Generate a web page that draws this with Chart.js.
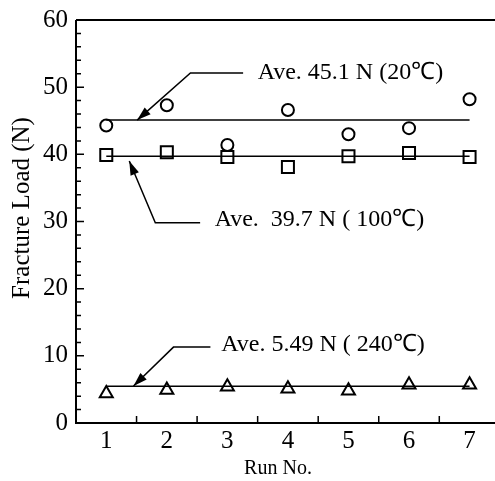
<!DOCTYPE html>
<html>
<head>
<meta charset="utf-8">
<script src="https://cdn.jsdelivr.net/npm/chart.js@4/dist/chart.umd.min.js"></script>
<style>
  body { margin: 0; background: #fff; }
  canvas { display: block; }
</style>
</head>
<body>
<canvas id="myChart" width="495" height="481"></canvas>
<script>
// data
const runs = [1, 2, 3, 4, 5, 6, 7];
const load20 = [44.3, 47.3, 41.4, 46.6, 43.0, 43.9, 48.2];
const load100 = [39.9, 40.3, 39.6, 38.1, 39.7, 40.2, 39.6];
const load240 = [4.4, 4.9, 5.4, 5.1, 4.8, 5.7, 5.7];
const averages = [45.1, 39.7, 5.49];
const avgLabels = ["Ave. 45.1 N (20\u2103)", "Ave.  39.7 N ( 100\u2103)", "Ave. 5.49 N ( 240\u2103)"];

const xTicks = [1, 2, 3, 4, 5, 6, 7];
const xTickMarks = [1.5, 2.5, 3.5, 4.5, 5.5, 6.5];
const yTicks = [0, 10, 20, 30, 40, 50, 60];
const yMinorTicks = [2, 4, 6, 8, 12, 14, 16, 18, 22, 24, 26, 28, 32, 34, 36, 38, 42, 44, 46, 48, 52, 54, 56, 58];
const xTitle = "Run No.";
const yTitle = "Fracture Load (N)";

// callout leaders in data units: arrow tip, elbow, end of horizontal, text start
const callouts = [
    { tip: [1.51, 45.1], elbow: [2.39, 52.1], end: [3.26, 52.1], text: [3.50, 52.2] },
    { tip: [1.38, 39.0], elbow: [1.81, 29.8], end: [2.55, 29.8], text: [2.79, 30.2] },
    { tip: [1.45, 5.5], elbow: [2.11, 11.3], end: [2.72, 11.3], text: [2.90, 11.6] }
];

const serif = "'Liberation Serif', 'Times New Roman', serif";

function pts(ys) {
    return runs.map((r, i) => ({ x: r, y: ys[i] }));
}
function avgLine(v) {
    return [{ x: runs[0], y: v }, { x: runs[runs.length - 1], y: v }];
}

const frame = {
    id: "frame",
    beforeDraw(chart) {
        const ctx = chart.ctx;
        ctx.save();
        ctx.fillStyle = "#fff";
        ctx.fillRect(0, 0, chart.width, chart.height);
        ctx.restore();
    },
    afterDraw(chart) {
        const ctx = chart.ctx;
        const a = chart.chartArea;
        const xs = chart.scales.x, ys = chart.scales.y;
        ctx.save();
        ctx.strokeStyle = "#000";
        ctx.lineWidth = 2;
        ctx.beginPath();
        ctx.moveTo(a.left, a.top);
        ctx.lineTo(chart.width, a.top);
        ctx.moveTo(a.left, a.top);
        ctx.lineTo(a.left, a.bottom);
        ctx.lineTo(chart.width, a.bottom);
        ctx.stroke();

        // inward tick marks
        ctx.lineWidth = 1.5;
        ctx.beginPath();
        yTicks.forEach(v => {
            const y = ys.getPixelForValue(v);
            ctx.moveTo(a.left, y);
            ctx.lineTo(a.left + 8, y);
        });
        yMinorTicks.forEach(v => {
            const y = ys.getPixelForValue(v);
            ctx.moveTo(a.left, y);
            ctx.lineTo(a.left + 5, y);
        });
        xTickMarks.forEach(v => {
            const x = xs.getPixelForValue(v);
            ctx.moveTo(x, a.bottom);
            ctx.lineTo(x, a.bottom - 7);
        });
        ctx.stroke();

        // axis titles
        ctx.fillStyle = "#000";
        ctx.textAlign = "center";
        ctx.textBaseline = "middle";
        ctx.font = "20px " + serif;
        ctx.fillText(xTitle, 278, 469);
        ctx.save();
        ctx.translate(22, 208);
        ctx.rotate(-Math.PI / 2);
        ctx.font = "25px " + serif;
        ctx.fillText(yTitle, 0, 0);
        ctx.restore();

        // callouts
        ctx.lineWidth = 1.5;
        ctx.font = "24px " + serif;
        ctx.textAlign = "left";
        callouts.forEach((c, i) => {
            const tx = xs.getPixelForValue(c.tip[0]), ty = ys.getPixelForValue(c.tip[1]);
            const ex = xs.getPixelForValue(c.elbow[0]), ey = ys.getPixelForValue(c.elbow[1]);
            const hx = xs.getPixelForValue(c.end[0]), hy = ys.getPixelForValue(c.end[1]);
            ctx.beginPath();
            ctx.moveTo(hx, hy);
            ctx.lineTo(ex, ey);
            ctx.lineTo(tx, ty);
            ctx.stroke();
            const ang = Math.atan2(ty - ey, tx - ex);
            const len = 14, half = 4.5;
            ctx.beginPath();
            ctx.moveTo(tx, ty);
            ctx.lineTo(tx - len * Math.cos(ang) + half * Math.sin(ang), ty - len * Math.sin(ang) - half * Math.cos(ang));
            ctx.lineTo(tx - len * Math.cos(ang) - half * Math.sin(ang), ty - len * Math.sin(ang) + half * Math.cos(ang));
            ctx.closePath();
            ctx.fill();
            ctx.fillText(avgLabels[i], xs.getPixelForValue(c.text[0]), ys.getPixelForValue(c.text[1]));
        });
        ctx.restore();
    }
};

const marker = (style, r) => ({
    pointStyle: style,
    pointRadius: r,
    pointHoverRadius: r,
    pointBorderColor: "#000",
    pointBackgroundColor: "rgba(0,0,0,0)",
    pointBorderWidth: 2,
    showLine: false
});
const avgStyle = {
    type: "line",
    borderColor: "#000",
    borderWidth: 1.5,
    pointRadius: 0,
    fill: false
};

const ctx = document.getElementById("myChart").getContext("2d");
new Chart(ctx, {
    type: "scatter",
    data: {
        datasets: [
            { label: "20", data: pts(load20), ...marker("circle", 6) },
            { label: "100", data: pts(load100), ...marker("rect", 8.5) },
            { label: "240", data: pts(load240), ...marker("triangle", 7.5) },
            { label: "avg20", data: avgLine(averages[0]), ...avgStyle },
            { label: "avg100", data: avgLine(averages[1]), ...avgStyle },
            { label: "avg240", data: avgLine(averages[2]), ...avgStyle }
        ]
    },
    options: {
        responsive: false,
        animation: false,
        layout: { autoPadding: false, padding: { top: 20, right: 0, left: 0, bottom: 0 } },
        plugins: {
            legend: { display: false },
            tooltip: { enabled: false }
        },
        scales: {
            x: {
                type: "linear",
                min: 0.5,
                max: 7.42,
                grid: { display: false, tickLength: 0 },
                border: { display: false },
                afterBuildTicks: s => { s.ticks = xTicks.map(v => ({ value: v })); },
                afterFit: s => { s.height = 58; s.paddingLeft = 0; s.paddingRight = 0; },
                ticks: {
                    color: "#000",
                    padding: 3,
                    maxRotation: 0,
                    font: { family: serif, size: 25 }
                }
            },
            y: {
                min: 0,
                max: 60,
                grid: { display: false, tickLength: 0 },
                border: { display: false },
                afterBuildTicks: s => { s.ticks = yTicks.map(v => ({ value: v })); },
                afterFit: s => { s.width = 76; s.paddingTop = 0; s.paddingBottom = 0; },
                ticks: {
                    color: "#000",
                    padding: 8,
                    font: { family: serif, size: 25 }
                }
            }
        }
    },
    plugins: [frame]
});
</script>
</body>
</html>
